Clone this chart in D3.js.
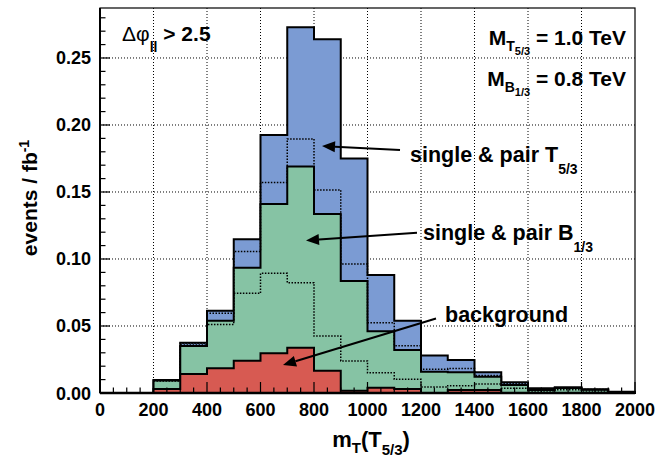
<!DOCTYPE html>
<meta charset="utf-8">
<style>
body { margin: 0; background: #fff; }
text { font-family: "Liberation Sans", Arial, sans-serif; font-weight: bold; fill: #000; }
.grid { stroke: #000; stroke-width: 1; stroke-dasharray: 1,2; fill: none; }
.hist { stroke: #000; stroke-width: 2; stroke-linejoin: miter; }
.dots { stroke: #000; stroke-width: 1.5; stroke-dasharray: 1.5,1.5; fill: none; }
</style>
<body>
<div id="chart"></div>
<script src="https://cdn.jsdelivr.net/npm/d3@7"></script>
<script>

// bin edges (GeV), 100 GeV wide
var binEdges = [0,100,200,300,400,500,600,700,800,900,1000,1100,1200,1300,1400,1500,1600,1700,1800,1900,2000];

// events / fb^-1 per bin
var background = [0,0,0.0030,0.0142,0.0184,0.0240,0.0296,0.0338,0.0166,0.0017,0.0040,0.0030,0,0.0022,0.0022,0,0,0,0,0];
var singlePairB = [0,0,0.0063,0.0208,0.0356,0.0695,0.1114,0.1352,0.1170,0.0818,0.0420,0.0290,0.0159,0.0132,0.0100,0.0060,0.0022,0.0038,0.0025,0.0008];
var singlePairT = [0,0,0.0004,0.0025,0.0074,0.0212,0.0515,0.1040,0.1304,0.0915,0.0420,0.0220,0.0121,0.0092,0.0032,0.0020,0.0013,0.0004,0.0003,0.0002];
// pair-only parts (dotted), stacked on the histogram below them
var pairB = [0,0,0.0060,0.0216,0.0328,0.0504,0.0597,0.0485,0.0259,0.0222,0.0111,0.0072,0.0045,0.0033,0.0045,0.0035,0.0015,0.0025,0.0015,0.0005];
var pairT = [0,0,0.0002,0.0022,0.0055,0.0120,0.0160,0.0206,0.0179,0.0128,0.0065,0.0033,0.0019,0.0028,0.0008,0.0010,0.0006,0.0002,0.0001,0.0001];

var xTicks = d3.range(0, 2001, 200);
var yTicks = [0, 0.05, 0.10, 0.15, 0.20, 0.25];

var width = 655, height = 466;

var svg = d3.select("#chart").append("svg")
    .attr("width", width)
    .attr("height", height);

var x = d3.scaleLinear().domain([0, 2000]).range([100, 635]);
var y = d3.scaleLinear().domain([0, 0.2873]).range([393, 8]);

// stacked levels
var lvlBg = background.slice();
var lvlB = background.map(function(d, i) { return d + singlePairB[i]; });
var lvlT = lvlB.map(function(d, i) { return d + singlePairT[i]; });
var lvlPairB = background.map(function(d, i) { return d + pairB[i]; });
var lvlPairT = lvlB.map(function(d, i) { return d + pairT[i]; });

// grid
svg.append("g").selectAll("line")
  .data(xTicks.slice(1, -1))
  .enter().append("line")
    .attr("class", "grid")
    .attr("x1", function(d) { return x(d); })
    .attr("x2", function(d) { return x(d); })
    .attr("y1", y.range()[0])
    .attr("y2", y.range()[1]);

svg.append("g").selectAll("line")
  .data(yTicks.slice(1))
  .enter().append("line")
    .attr("class", "grid")
    .attr("x1", x.range()[0])
    .attr("x2", x.range()[1])
    .attr("y1", function(d) { return y(d); })
    .attr("y2", function(d) { return y(d); });

// histogram step outline from level array
function stepPoints(levels) {
  var pts = [[binEdges[0], 0]];
  levels.forEach(function(v, i) {
    pts.push([binEdges[i], v]);
    pts.push([binEdges[i + 1], v]);
  });
  pts.push([binEdges[binEdges.length - 1], 0]);
  return pts;
}

var line = d3.line()
    .x(function(d) { return x(d[0]); })
    .y(function(d) { return y(d[1]); });

function drawHist(levels, fill) {
  svg.append("path")
      .attr("class", "hist")
      .attr("fill", fill)
      .attr("d", line(stepPoints(levels)) + "Z");
}

drawHist(lvlT, "#7b9bd3");
drawHist(lvlB, "#86c3a4");
drawHist(lvlBg, "#d75a52");

function drawDotStep(levels, first) {
  var pts = [];
  for (var i = first; i < levels.length; i++) {
    pts.push([binEdges[i], levels[i]]);
    pts.push([binEdges[i + 1], levels[i]]);
  }
  svg.append("path")
      .attr("class", "dots")
      .attr("d", line(pts));
}

drawDotStep(lvlPairT, 2);
drawDotStep(lvlPairB, 2);

// frame
svg.append("rect")
    .attr("x", x.range()[0])
    .attr("y", y.range()[1])
    .attr("width", x.range()[1] - x.range()[0])
    .attr("height", y.range()[0] - y.range()[1])
    .attr("fill", "none")
    .attr("stroke", "#000")
    .attr("stroke-width", 1.2);

// axis lines
svg.append("line")
    .attr("x1", x.range()[0]).attr("x2", x.range()[1])
    .attr("y1", y.range()[0]).attr("y2", y.range()[0])
    .attr("stroke", "#000").attr("stroke-width", 2.5);
svg.append("line")
    .attr("x1", x.range()[0]).attr("x2", x.range()[0])
    .attr("y1", y.range()[0]).attr("y2", y.range()[1])
    .attr("stroke", "#000").attr("stroke-width", 2);

// x ticks
svg.append("g").selectAll("line")
  .data(d3.range(0, 2001, 50))
  .enter().append("line")
    .attr("x1", function(d) { return x(d); })
    .attr("x2", function(d) { return x(d); })
    .attr("y1", y.range()[0])
    .attr("y2", function(d) { return y.range()[0] - (d % 200 === 0 ? 11 : 5.5); })
    .attr("stroke", "#000")
    .attr("stroke-width", 1.2);

svg.append("g").selectAll("text")
  .data(xTicks)
  .enter().append("text")
    .attr("x", function(d) { return x(d); })
    .attr("y", 416)
    .attr("text-anchor", "middle")
    .style("font-size", "18px")
    .text(function(d) { return d; });

// y ticks
svg.append("g").selectAll("line")
  .data(d3.range(0, 29))
  .enter().append("line")
    .attr("x1", x.range()[0])
    .attr("x2", function(d) { return x.range()[0] + (d % 5 === 0 ? 10 : 5.5); })
    .attr("y1", function(d) { return y(d / 100); })
    .attr("y2", function(d) { return y(d / 100); })
    .attr("stroke", "#000")
    .attr("stroke-width", 1.2);

svg.append("g").selectAll("text")
  .data(yTicks)
  .enter().append("text")
    .attr("x", 91)
    .attr("y", function(d) { return y(d) + 6.5; })
    .attr("text-anchor", "end")
    .style("font-size", "18px")
    .text(function(d) { return d3.format(".2f")(d); });

// axis titles
var yt = svg.append("text")
    .attr("transform", "translate(37,198) rotate(-90)")
    .attr("text-anchor", "middle")
    .style("font-size", "21px");
yt.append("tspan").text("events / fb");
yt.append("tspan").attr("dy", -8).style("font-size", "14px").text("-1");

var xt = svg.append("text")
    .attr("x", 371)
    .attr("y", 447)
    .attr("text-anchor", "middle")
    .style("font-size", "22px");
xt.append("tspan").text("m");
xt.append("tspan").attr("dy", 6).style("font-size", "15px").text("T");
xt.append("tspan").attr("dy", -6).text("(T");
xt.append("tspan").attr("dy", 8).style("font-size", "15px").text("5/3");
xt.append("tspan").attr("dy", -8).text(")");

// labels in the pad
var dl = svg.append("text")
    .attr("x", 122)
    .attr("y", 41)
    .style("font-size", "21px");
dl.append("tspan").style("font-weight", "normal").text("\u0394\u03c6");
dl.append("tspan").attr("dy", 11).style("font-size", "14px").text("ll");
dl.append("tspan").attr("dy", -11).text("\u00a0> 2.5");

function massLabel(yy, sub, value) {
  var t = svg.append("text")
      .attr("x", 626)
      .attr("y", yy)
      .attr("text-anchor", "end")
      .style("font-size", "21px");
  t.append("tspan").text("M");
  t.append("tspan").attr("dy", 6).style("font-size", "14px").text(sub[0]);
  t.append("tspan").attr("dy", 4).style("font-size", "11px").text(sub[1]);
  t.append("tspan").attr("dy", -10).text(" = " + value + " TeV");
}
massLabel(45, ["T", "5/3"], "1.0");
massLabel(86, ["B", "1/3"], "0.8");

function procLabel(xx, yy, main, sub) {
  var t = svg.append("text")
      .attr("x", xx)
      .attr("y", yy)
      .style("font-size", "21.5px");
  t.append("tspan").text(main);
  if (sub) t.append("tspan").attr("dy", 12).style("font-size", "14px").text(sub);
}
procLabel(410, 162, "single & pair T", "5/3");
procLabel(423, 240, "single & pair B", "1/3");
procLabel(445, 322, "background");

// arrows
function arrow(x1, y1, x2, y2) {
  var a = Math.atan2(y2 - y1, x2 - x1), len = 13, w = 5.5;
  var bx = x2 - len * Math.cos(a), by = y2 - len * Math.sin(a);
  svg.append("line")
      .attr("x1", x1).attr("y1", y1)
      .attr("x2", bx).attr("y2", by)
      .attr("stroke", "#000").attr("stroke-width", 2);
  svg.append("path")
      .attr("d", "M" + x2 + "," + y2 +
        "L" + (bx + w * Math.sin(a)) + "," + (by - w * Math.cos(a)) +
        "L" + (bx - w * Math.sin(a)) + "," + (by + w * Math.cos(a)) + "Z")
      .attr("fill", "#000");
}
arrow(400, 150, 322, 146);
arrow(417, 232.7, 306, 240.5);
arrow(436, 318.5, 283, 365);

</script>
